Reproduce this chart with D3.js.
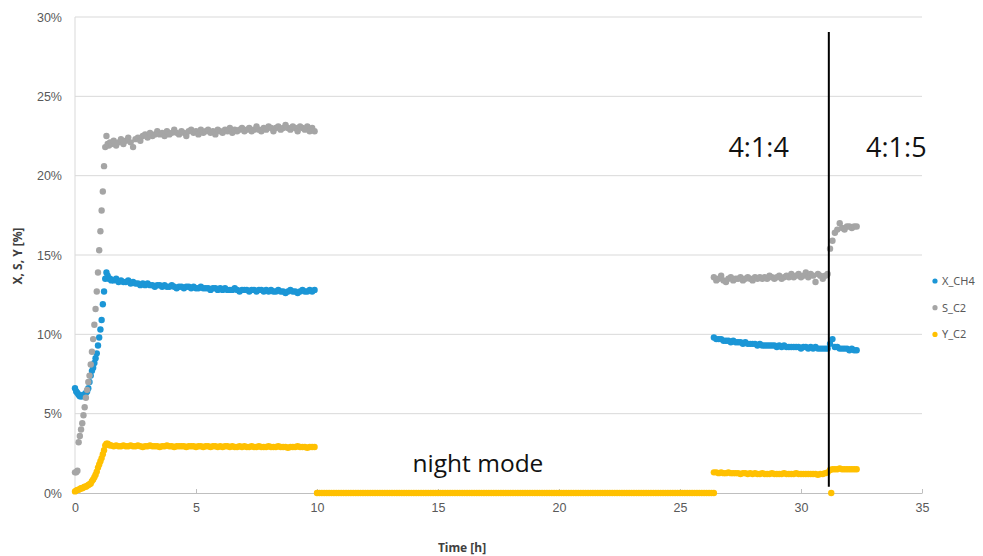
<!DOCTYPE html>
<html>
<head>
<meta charset="utf-8">
<script src="https://cdn.jsdelivr.net/npm/d3@7"></script>
<style>
  body { margin: 0; background: #fff; }
  svg { display: block; font-family: "Noto Sans", "Open Sans", sans-serif; }
</style>
</head>
<body>
<div id="chart"></div>
<script>
// series names + colours (legend order)
const seriesNames = ['X_CH4', 'S_C2', 'Y_C2'];
const seriesColors = ['#1b96d6', '#a5a5a5', '#ffc000'];

const xTicks = [0, 5, 10, 15, 20, 25, 30, 35];
const yTicks = [0, 5, 10, 15, 20, 25, 30];

// start-up, 0 - 1.45 h, one sample every 0.05 h
const startT0 = 0, startStep = 0.05;
const xStart = [6.6, 6.4, 6.3, 6.2, 6.1, 6.1, 6.1, 6.2, 6.2, 6.3, 6.4, 6.6, 7.0, 7.4, 7.7,
  7.9, 8.2, 8.5, 8.8, 9.3, 9.8, 10.3, 10.9, 11.9, 12.7, 13.5, 13.9, 13.7, 13.5, 13.5];
const sStart = [1.3, 1.3, 1.4, 3.2, 3.6, 4.0, 4.4, 4.9, 5.4, 6.0, 6.5, 7.0, 7.4, 8.1, 8.9,
  9.7, 10.6, 11.6, 12.7, 13.9, 15.3, 16.5, 17.8, 19.0, 20.6, 21.8, 22.5, 22.0, 21.9, 22.1];
const yStart = [0.1, 0.15, 0.2, 0.2, 0.25, 0.3, 0.3, 0.35, 0.4, 0.4, 0.45, 0.5, 0.55, 0.6, 0.75,
  0.85, 1.0, 1.15, 1.35, 1.6, 1.8, 2.0, 2.2, 2.45, 2.7, 3.0, 3.1, 3.1, 3.05, 3.0];

// day run, 1.5 - 9.9 h, one sample every 0.1 h
const dayT0 = 1.5, dayStep = 0.1;
const xDay = [
  13.4, 13.4, 13.5, 13.3, 13.4, 13.3, 13.3, 13.4, 13.2, 13.3,
  13.2, 13.2, 13.1, 13.2, 13.1, 13.2, 13.1, 13.1, 13.0, 13.1,
  13.1, 13.0, 13.1, 13.0, 13.0, 13.1, 13.0, 12.9, 13.0, 13.0,
  12.9, 13.0, 13.0, 12.9, 13.0, 12.9, 12.9, 13.0, 12.9, 12.9,
  12.9, 12.8, 12.9, 12.9, 12.8, 12.9, 12.8, 12.9, 12.8, 12.8,
  12.8, 12.9, 12.8, 12.7, 12.8, 12.8, 12.8, 12.7, 12.8, 12.8,
  12.7, 12.8, 12.8, 12.7, 12.8, 12.7, 12.8, 12.7, 12.7, 12.8,
  12.7, 12.7, 12.6, 12.7, 12.8, 12.7, 12.7, 12.6, 12.7, 12.8,
  12.7, 12.7, 12.8, 12.7, 12.8];
const sDay = [
  22.0, 22.2, 21.9, 22.1, 22.3, 22.0, 22.2, 22.4, 22.1, 21.8,
  22.3, 22.4, 22.2, 22.5, 22.6, 22.4, 22.7, 22.5, 22.6, 22.8,
  22.6, 22.7, 22.5, 22.8, 22.6, 22.7, 22.9, 22.7, 22.6, 22.8,
  22.7, 22.5, 22.8, 22.9, 22.7, 22.8, 22.6, 22.9, 22.7, 22.8,
  22.9, 22.7, 22.8, 22.6, 22.9, 22.8, 22.7, 22.9, 22.8, 23.0,
  22.7, 22.9, 22.8, 22.9, 23.0, 22.8, 22.9, 23.0, 22.8, 22.9,
  23.1, 22.9, 22.8, 23.0, 22.9, 23.1, 23.0, 22.8, 23.0, 23.1,
  22.9, 23.0, 23.2, 23.0, 22.9, 23.1, 23.0, 22.8, 23.1, 23.0,
  22.9, 23.1, 22.8, 23.0, 22.8];
const yDay = [
  3.0, 2.95, 3.0, 2.95, 2.95, 3.0, 2.95, 2.95, 3.0, 2.95,
  2.95, 3.0, 2.95, 2.9, 2.95, 2.95, 3.0, 2.95, 2.95, 2.95,
  2.9, 2.95, 2.95, 3.0, 2.95, 2.95, 2.9, 2.95, 2.95, 2.95,
  2.95, 2.9, 2.95, 2.95, 2.95, 2.9, 2.95, 2.95, 2.9, 2.95,
  2.95, 2.9, 2.95, 2.95, 2.9, 2.95, 2.9, 2.95, 2.95, 2.9,
  2.95, 2.9, 2.9, 2.95, 2.9, 2.95, 2.9, 2.9, 2.95, 2.9,
  2.9, 2.95, 2.9, 2.9, 2.9, 2.95, 2.9, 2.9, 2.9, 2.95,
  2.9, 2.9, 2.9, 2.85, 2.9, 2.9, 2.9, 2.95, 2.9, 2.9,
  2.9, 2.85, 2.9, 2.9, 2.9];

// night mode, 10.0 - 26.4 h, one sample every 0.1 h (only Y_C2 logged)
const nightT0 = 10.0, nightStep = 0.1;
const yNight = [
  0, 0, 0, 0, 0, 0, 0, 0, 0, 0, 0, 0, 0, 0, 0, 0, 0, 0, 0, 0,
  0, 0, 0, 0, 0, 0, 0, 0, 0, 0, 0, 0, 0, 0, 0, 0, 0, 0, 0, 0,
  0, 0, 0, 0, 0, 0, 0, 0, 0, 0, 0, 0, 0, 0, 0, 0, 0, 0, 0, 0,
  0, 0, 0, 0, 0, 0, 0, 0, 0, 0, 0, 0, 0, 0, 0, 0, 0, 0, 0, 0,
  0, 0, 0, 0, 0, 0, 0, 0, 0, 0, 0, 0, 0, 0, 0, 0, 0, 0, 0, 0,
  0, 0, 0, 0, 0, 0, 0, 0, 0, 0, 0, 0, 0, 0, 0, 0, 0, 0, 0, 0,
  0, 0, 0, 0, 0, 0, 0, 0, 0, 0, 0, 0, 0, 0, 0, 0, 0, 0, 0, 0,
  0, 0, 0, 0, 0, 0, 0, 0, 0, 0, 0, 0, 0, 0, 0, 0, 0, 0, 0, 0,
  0, 0, 0, 0, 0];

// second day, 26.4 - 32.3 h, one sample every 0.1 h (4:1:4 then 4:1:5)
const day2T0 = 26.4, day2Step = 0.1;
const xDay2 = [
  9.8, 9.7, 9.7, 9.7, 9.6, 9.6, 9.6, 9.5, 9.6, 9.5,
  9.5, 9.5, 9.4, 9.5, 9.4, 9.4, 9.4, 9.4, 9.3, 9.4,
  9.3, 9.3, 9.3, 9.3, 9.3, 9.3, 9.2, 9.3, 9.2, 9.3,
  9.2, 9.2, 9.2, 9.2, 9.2, 9.2, 9.1, 9.2, 9.2, 9.1,
  9.2, 9.1, 9.2, 9.1, 9.1, 9.1, 9.1, 9.1, 9.4, 9.7,
  9.2, 9.2, 9.1, 9.1, 9.1, 9.1, 9.0, 9.1, 9.0, 9.0];
const sDay2 = [
  13.6, 13.4, 13.5, 13.7, 13.4, 13.3, 13.5, 13.6, 13.4, 13.5,
  13.5, 13.6, 13.4, 13.5, 13.6, 13.5, 13.4, 13.6, 13.5, 13.6,
  13.5, 13.6, 13.5, 13.7, 13.6, 13.5, 13.6, 13.7, 13.5, 13.6,
  13.7, 13.6, 13.8, 13.6, 13.7, 13.8, 13.6, 13.7, 13.9, 13.6,
  13.8, 13.7, 13.3, 13.8, 13.7, 13.5, 13.7, 13.8, 15.4, 15.9,
  16.4, 16.6, 17.0, 16.7, 16.6, 16.8, 16.8, 16.7, 16.8, 16.8];
const yDay2 = [
  1.3, 1.3, 1.25, 1.3, 1.25, 1.25, 1.3, 1.25, 1.25, 1.25,
  1.25, 1.2, 1.25, 1.25, 1.2, 1.25, 1.2, 1.25, 1.2, 1.2,
  1.25, 1.2, 1.2, 1.2, 1.25, 1.2, 1.2, 1.2, 1.2, 1.25,
  1.2, 1.2, 1.2, 1.2, 1.25, 1.2, 1.2, 1.2, 1.2, 1.2,
  1.2, 1.2, 1.2, 1.15, 1.2, 1.2, 1.25, 1.3, 1.45, 1.5,
  1.5, 1.5, 1.55, 1.5, 1.5, 1.5, 1.5, 1.5, 1.5, 1.5];
// single Y_C2 reading that dropped to zero at the switch
const yDropTime = [31.25];
const yDropValue = [0];

// switch of feed ratio and the annotations
const switchTime = 31.15;
const switchSpan = [0.4, 29.05];
const notes = [
  { text: '4:1:4', t: 27.0, v: 21.2, size: 27 },
  { text: '4:1:5', t: 32.69, v: 21.2, size: 27 },
  { text: 'night mode', t: 13.95, v: 1.3, size: 24.5 }
];

const width = 983, height = 556;
const svg = d3.select('#chart').append('svg')
  .attr('width', width)
  .attr('height', height);

const x = d3.scaleLinear().domain([0, 35]).range([75, 922]);
const y = d3.scaleLinear().domain([0, 30]).range([493, 17]);

// horizontal gridlines
svg.append('g')
  .selectAll('line')
  .data(yTicks.filter(d => d > 0))
  .enter().append('line')
  .attr('x1', x(0)).attr('x2', x(35))
  .attr('y1', d => y(d)).attr('y2', d => y(d))
  .attr('stroke', '#d9d9d9').attr('stroke-width', 1);

// left axis line
svg.append('line')
  .attr('x1', x(0)).attr('x2', x(0))
  .attr('y1', y(0)).attr('y2', y(30))
  .attr('stroke', '#d9d9d9');

// y tick labels
const yAxis = svg.append('g')
  .attr('transform', `translate(${x(0)},0)`)
  .call(d3.axisLeft(y).tickValues(yTicks).tickSize(0).tickPadding(13).tickFormat(d => d + '%'));
yAxis.select('.domain').remove();
yAxis.selectAll('text').attr('fill', '#595959').style('font-size', '12.5px');

// x axis
const xAxis = svg.append('g')
  .attr('transform', `translate(0,${y(0)})`)
  .call(d3.axisBottom(x).tickValues(xTicks).tickSizeInner(-4).tickSizeOuter(0).tickPadding(10));
xAxis.select('.domain').attr('stroke', '#bfbfbf');
xAxis.selectAll('.tick line').attr('stroke', '#bfbfbf');
xAxis.selectAll('text').attr('fill', '#595959').style('font-size', '12.5px');

// axis titles
svg.append('text')
  .attr('x', 462).attr('y', 552)
  .attr('text-anchor', 'middle')
  .attr('fill', '#404040')
  .style('font-size', '12px').style('font-weight', 'bold')
  .text('Time [h]');
svg.append('text')
  .attr('transform', 'translate(22,256) rotate(-90)')
  .attr('text-anchor', 'middle')
  .attr('fill', '#404040')
  .style('font-size', '12px').style('font-weight', 'bold')
  .text('X, S, Y [%]');

// points
const r = 3.2;
function plotRun(values, t0, step, color) {
  svg.append('g')
    .selectAll('circle')
    .data(values)
    .enter().append('circle')
    .attr('cx', (d, i) => x(t0 + i * step))
    .attr('cy', d => y(d))
    .attr('r', r)
    .attr('fill', color);
}

const runs = [
  [xStart, sStart, yStart, startT0, startStep],
  [xDay, sDay, yDay, dayT0, dayStep],
  [xDay2, sDay2, yDay2, day2T0, day2Step]
];
runs.forEach(run => {
  plotRun(run[0], run[3], run[4], seriesColors[0]);
});
runs.forEach(run => {
  plotRun(run[1], run[3], run[4], seriesColors[1]);
});
runs.forEach(run => {
  plotRun(run[2], run[3], run[4], seriesColors[2]);
});
plotRun(yNight, nightT0, nightStep, seriesColors[2]);
svg.append('g').selectAll('circle')
  .data(yDropValue)
  .enter().append('circle')
  .attr('cx', (d, i) => x(yDropTime[i]))
  .attr('cy', d => y(d))
  .attr('r', r)
  .attr('fill', seriesColors[2]);

// feed ratio switch line
svg.append('line')
  .attr('x1', x(switchTime)).attr('x2', x(switchTime))
  .attr('y1', y(switchSpan[0])).attr('y2', y(switchSpan[1]))
  .attr('stroke', '#000').attr('stroke-width', 2);

svg.append('g')
  .selectAll('text')
  .data(notes)
  .enter().append('text')
  .attr('x', d => x(d.t))
  .attr('y', d => y(d.v))
  .attr('fill', '#111')
  .style('font-family', '"Open Sans", sans-serif')
  .style('font-size', d => d.size + 'px')
  .text(d => d.text);

// legend
const legend = svg.append('g');
seriesNames.forEach((name, i) => {
  const ly = 281 + i * 26.7;
  legend.append('circle')
    .attr('cx', 935).attr('cy', ly).attr('r', 2.6)
    .attr('fill', seriesColors[i]);
  legend.append('text')
    .attr('x', 942).attr('y', ly + 4)
    .attr('fill', '#595959')
    .style('font-size', '11px')
    .text(name);
});
</script>
</body>
</html>
